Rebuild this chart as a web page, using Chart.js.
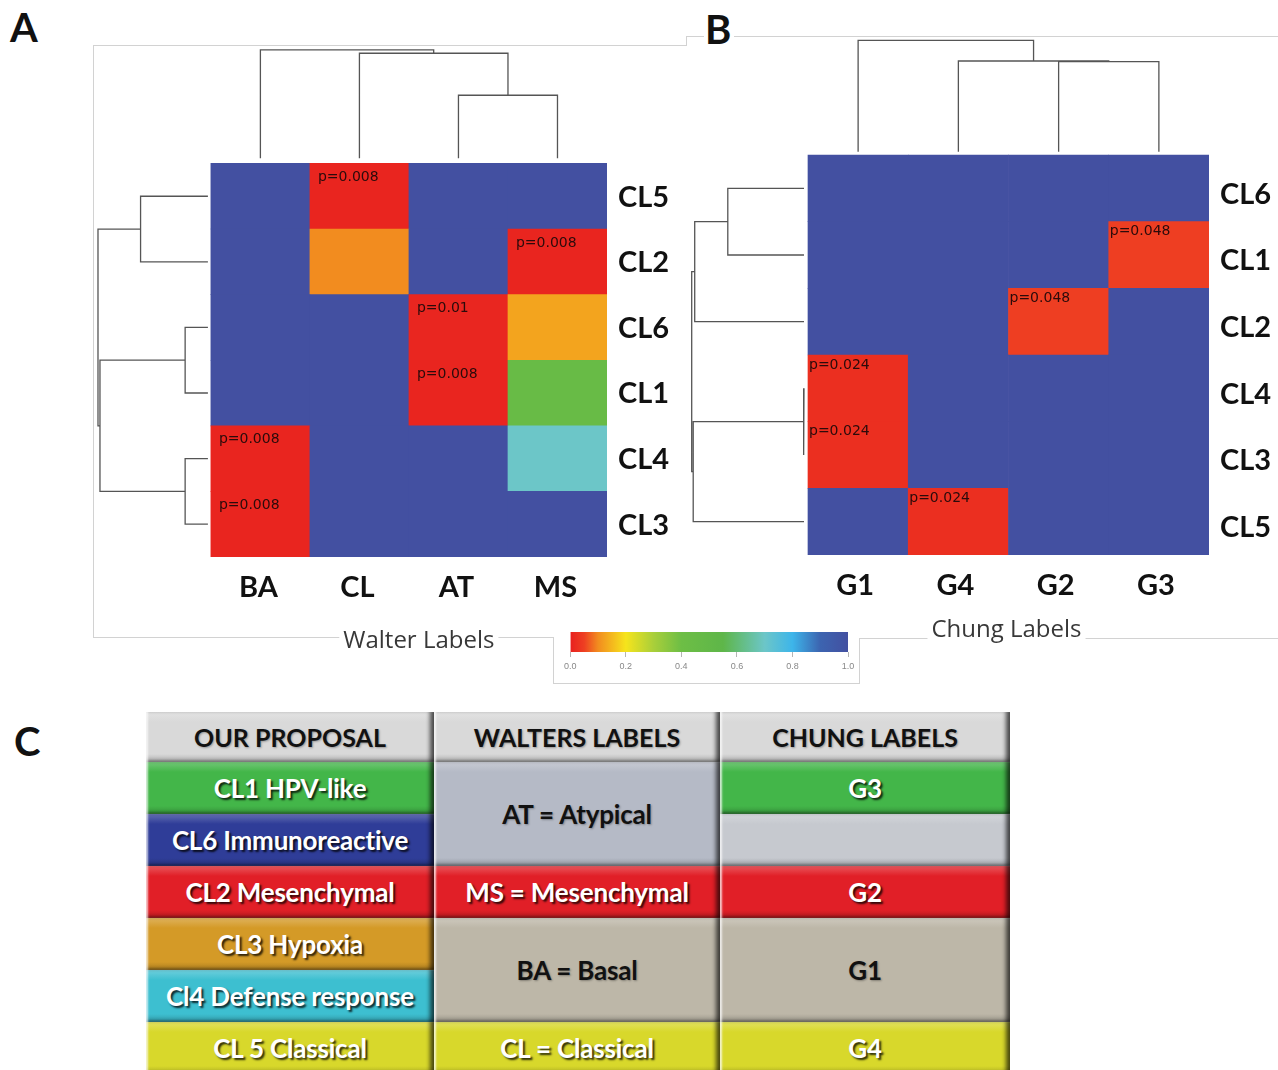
<!DOCTYPE html>
<html>
<head>
<meta charset="utf-8">
<script src="https://cdn.jsdelivr.net/npm/chart.js@4/dist/chart.umd.min.js"></script>
<style>
  html, body { margin: 0; padding: 0; background: #fff; overflow: hidden; }
  #page { position: relative; width: 1278px; height: 1070px; overflow: hidden; }
  canvas { position: absolute; }
  .rule { position: absolute; background: #d2d2d2; }
  .letter { position: absolute; font: bold 40px Lato, sans-serif; color: #111; line-height: 1; }
  .cell {
    position: absolute; box-sizing: border-box; display: flex; align-items: center; justify-content: center;
    font: bold 26px Lato, sans-serif; letter-spacing: -0.2px; white-space: nowrap;
    box-shadow: inset 3px 0 2px -1px rgba(255,255,255,0.75), inset -6px 0 4px -2px rgba(0,0,0,0.65), inset 0 -3px 3px -1px rgba(0,0,0,0.3);
  }
  .cell.head { font-size: 25px; letter-spacing: 0; }
  .ink-light { color: #fff; text-shadow: 2px 2px 2px rgba(0,0,0,0.8); }
  .ink-dark { color: #111; text-shadow: 1px 1px 2px rgba(0,0,0,0.3); }
</style>
</head>
<body>
<div id="page">
  <!-- panel frames -->
  <div class="rule" style="left:93px;top:45px;width:594px;height:1px"></div>
  <div class="rule" style="left:686px;top:36px;width:1px;height:10px"></div>
  <div class="rule" style="left:686px;top:36px;width:18px;height:1px"></div>
  <div class="rule" style="left:734px;top:36px;width:544px;height:1px"></div>
  <div class="rule" style="left:93px;top:45px;width:1px;height:593px"></div>
  <div class="rule" style="left:93px;top:637px;width:461px;height:1px"></div>
  <div class="rule" style="left:553px;top:637px;width:1px;height:47px"></div>
  <div class="rule" style="left:553px;top:683px;width:307px;height:1px"></div>
  <div class="rule" style="left:859px;top:638px;width:1px;height:46px"></div>
  <div class="rule" style="left:859px;top:638px;width:419px;height:1px"></div>

  <div class="letter" style="left:10px;top:7px">A</div>
  <div class="letter" style="left:705px;top:9px">B</div>
  <div class="letter" style="left:14px;top:721px">C</div>

  <canvas id="walters" width="590" height="609" style="left:97px;top:48px"></canvas>
  <canvas id="chung" width="589" height="607" style="left:690px;top:38px"></canvas>
  <canvas id="scale" width="300" height="50" style="left:560px;top:627px"></canvas>

  <div id="table"></div>
</div>

<script>
// ---- Walters subtypes vs. clusters ----
const waltersCols = ['BA', 'CL', 'AT', 'MS'];
const waltersRows = ['CL5', 'CL2', 'CL6', 'CL1', 'CL4', 'CL3'];
const waltersValues = [
  [1, 0.008, 1, 1],
  [1, 0.1, 1, 0.008],
  [1, 1, 0.01, 0.127],
  [1, 1, 0.008, 0.45],
  [0.008, 1, 1, 0.7],
  [0.008, 1, 1, 1]
];
// [row, col] of the cells annotated with their p-value
const waltersPCells = [[0, 1], [1, 3], [2, 2], [3, 2], [4, 0], [5, 0]];
// dendrograms: [left, right, mergeHeight], leaves are indices
const waltersColTree = [0, [1, [2, 3, 1.04], 1.68], 1.73];
const waltersRowTree = [[0, 1, 0.71], [[2, 3, 0.26], [4, 5, 0.26], 1.12], 1.14];

// ---- Chung subtypes vs. clusters ----
const chungCols = ['G1', 'G4', 'G2', 'G3'];
const chungRows = ['CL6', 'CL1', 'CL2', 'CL4', 'CL3', 'CL5'];
const chungValues = [
  [1, 1, 1, 1],
  [1, 1, 1, 0.048],
  [1, 1, 0.048, 1],
  [0.024, 1, 1, 1],
  [0.024, 1, 1, 1],
  [1, 0.024, 1, 1]
];
const chungPCells = [[1, 3], [2, 2], [3, 0], [4, 0], [5, 1]];
const chungColTree = [0, [1, [2, 3, 1.40], 1.41], 1.72];
const chungRowTree = [[[0, 1, 0.80], 2, 1.13], [[3, 4, 0.045], 5, 1.145], 1.16];

// ---- colour scale ----
const scaleTicks = [0, 0.2, 0.4, 0.6, 0.8, 1.0];
const colorStops = [
  [0, '#E8201F'], [0.05, '#EE3F22'], [0.1, '#F28C1F'], [0.2, '#F6E41C'], [0.3, '#A9CF3A'],
  [0.4, '#6DBE45'], [0.55, '#5EB649'], [0.7, '#6CC6C8'], [0.8, '#3DB5EA'], [0.9, '#3C64B0'], [1, '#4350A1']
];

// ---- summary table ----
const tableHeaders = ['OUR PROPOSAL', 'WALTERS LABELS', 'CHUNG LABELS'];
const proposalLabels = ['CL1 HPV-like', 'CL6 Immunoreactive', 'CL2 Mesenchymal', 'CL3 Hypoxia', 'Cl4 Defense response', 'CL 5 Classical'];
const waltersLabels = ['AT = Atypical', 'MS = Mesenchymal', 'BA = Basal', 'CL = Classical'];
const waltersSpans = [2, 1, 2, 1];
const chungLabels = ['G3', '', 'G2', 'G1', 'G4'];
const chungSpans = [1, 1, 1, 2, 1];

const proposalFill = ['#43B649', '#2F3D98', '#E11F27', '#D49A27', '#3DBFD0', '#D8D82B'];
const waltersFill = ['#B5BAC6', '#E11F27', '#BDB7A8', '#D8D82B'];
const chungFill = ['#43B649', '#C6C9CF', '#E11F27', '#BDB7A8', '#D8D82B'];
const waltersInk = ['dark', 'light', 'dark', 'light'];
const chungInk = ['light', 'dark', 'light', 'dark', 'light'];

function hexRgb(h) { const n = parseInt(h.slice(1), 16); return [n >> 16 & 255, n >> 8 & 255, n & 255]; }
function mix(a, b, t) { return a.map((x, k) => Math.round(x + (b[k] - x) * t)); }
function rgb(c) { return `rgb(${c.join(',')})`; }

function valueColor(v) {
  for (let i = 1; i < colorStops.length; i++) {
    const [p1, c1] = colorStops[i - 1], [p2, c2] = colorStops[i];
    if (v <= p2) return rgb(mix(hexRgb(c1), hexRgb(c2), (v - p1) / (p2 - p1)));
  }
  return colorStops[colorStops.length - 1][1];
}

// Walk a dendrogram and return its polyline points (NaN breaks between links)
function treePoints(tree, gap, orient) {
  const pts = [];
  const put = (pos, h) => pts.push(orient === 'top' ? { x: pos, y: -h } : { x: -h, y: pos });
  function walk(node) {
    if (typeof node === 'number') return { pos: node + 0.5, h: gap };
    const [a, b, h] = node;
    const L = walk(a), R = walk(b);
    put(L.pos, L.h); put(L.pos, h); put(R.pos, h); put(R.pos, R.h);
    pts.push({ x: NaN, y: NaN });
    return { pos: (L.pos + R.pos) / 2, h };
  }
  walk(tree);
  return pts;
}

const pLabelPlugin = {
  id: 'pLabels',
  afterDatasetsDraw(chart, args, opts) {
    const { ctx, scales: { x, y } } = chart;
    ctx.save();
    ctx.font = '14px "DejaVu Sans", sans-serif';
    ctx.fillStyle = '#2b0b0b';
    ctx.textBaseline = 'middle';
    ctx.textAlign = 'left';
    opts.cells.forEach(([r, c]) => {
      ctx.fillText('p=' + opts.values[r][c], x.getPixelForValue(c) + opts.dx, y.getPixelForValue(r) + opts.dy);
    });
    ctx.restore();
  }
};

const axisTitlePlugin = {
  id: 'axisTitle',
  afterDraw(chart, args, opts) {
    const { ctx, chartArea, scales: { x } } = chart;
    ctx.save();
    ctx.font = '24px "Open Sans", sans-serif';
    const w = ctx.measureText(opts.text).width;
    const cx = x.getPixelForValue(opts.at), cy = chartArea.bottom + opts.dy;
    ctx.fillStyle = '#fff';
    ctx.fillRect(cx - w / 2 - 4, cy - 13, w + 8, 26);
    ctx.fillStyle = '#383838';
    ctx.textAlign = 'center';
    ctx.textBaseline = 'middle';
    ctx.fillText(opts.text, cx, cy);
    ctx.restore();
  }
};

function heatmap(id, o) {
  const cells = [], fills = [];
  o.rows.forEach((_, i) => o.cols.forEach((_, j) => {
    cells.push({ x: j + 0.5, y: [i, i + 1] });
    fills.push(valueColor(o.values[i][j]));
  }));
  const lineStyle = { type: 'line', borderColor: '#555', borderWidth: 1.3, pointRadius: 0, fill: false, tension: 0, clip: false, spanGaps: false };
  const labelFont = { family: 'Lato', weight: 'bold', size: 29 };
  return new Chart(document.getElementById(id), {
    type: 'bar',
    data: {
      datasets: [
        { type: 'bar', data: cells, backgroundColor: fills, borderWidth: 0, barPercentage: 1, categoryPercentage: 1, grouped: false, order: 2 },
        { ...lineStyle, data: treePoints(o.colTree, o.colGap, 'top'), order: 1 },
        { ...lineStyle, data: treePoints(o.rowTree, o.rowGap, 'left'), order: 1 }
      ]
    },
    options: {
      responsive: false, animation: false, events: [],
      layout: { padding: 0 },
      plugins: {
        legend: { display: false }, tooltip: { enabled: false },
        pLabels: { cells: o.pCells, values: o.values, dx: o.pDx, dy: o.pDy },
        axisTitle: { text: o.title, at: o.titleAt, dy: o.titleDy }
      },
      scales: {
        x: {
          type: 'linear', min: o.xMin, max: o.cols.length, offset: false,
          grid: { display: false, drawTicks: false }, border: { display: false },
          afterBuildTicks: s => { s.ticks = o.cols.map((_, j) => ({ value: j + 0.5 })); },
          afterFit: s => { s.height = o.xAxisHeight; s.paddingLeft = 0; s.paddingRight = 0; },
          ticks: { autoSkip: false, maxRotation: 0, padding: 13, labelOffset: o.colShift, color: '#111', font: labelFont,
                   callback: v => o.cols[Math.floor(v)] }
        },
        y: {
          type: 'linear', position: 'right', reverse: true, min: o.yMin, max: o.rows.length,
          grid: { display: false, drawTicks: false }, border: { display: false },
          afterBuildTicks: s => { s.ticks = o.rows.map((_, i) => ({ value: i + 0.5 })); },
          afterFit: s => { s.width = o.yAxisWidth; s.paddingTop = 0; s.paddingBottom = 0; },
          ticks: { autoSkip: false, padding: 11, labelOffset: o.rowShift, color: '#111', font: labelFont,
                   callback: v => o.rows[Math.floor(v)] }
        }
      }
    },
    plugins: [pLabelPlugin, axisTitlePlugin]
  });
}

heatmap('walters', {
  cols: waltersCols, rows: waltersRows, values: waltersValues, pCells: waltersPCells,
  colTree: waltersColTree, rowTree: waltersRowTree, colGap: 0.08, rowGap: 0.03,
  xMin: -1.15, yMin: -1.76, xAxisHeight: 100, yAxisWidth: 80,
  pDx: 8, pDy: 14, colShift: -2, rowShift: 1,
  title: 'Walter Labels', titleAt: 2.1, titleDy: 84
});

heatmap('chung', {
  cols: chungCols, rows: chungRows, values: chungValues, pCells: chungPCells,
  colTree: chungColTree, rowTree: chungRowTree, colGap: 0.05, rowGap: 0.04,
  xMin: -1.177, yMin: -1.755, xAxisHeight: 90, yAxisWidth: 70,
  pDx: 1, pDy: 10, colShift: -3, rowShift: 6,
  title: 'Chung Labels', titleAt: 1.98, titleDy: 75
});

// colour key
new Chart(document.getElementById('scale'), {
  type: 'bar',
  data: {
    labels: [''],
    datasets: [{
      data: [[scaleTicks[0], scaleTicks[scaleTicks.length - 1]]],
      borderWidth: 0, barPercentage: 1, categoryPercentage: 1,
      backgroundColor: ctx => {
        const { chart } = ctx;
        if (!chart.chartArea) return '#888';
        const x = chart.scales.x;
        const g = chart.ctx.createLinearGradient(x.getPixelForValue(0), 0, x.getPixelForValue(1), 0);
        colorStops.forEach(([p, c]) => g.addColorStop(p, c));
        return g;
      }
    }]
  },
  options: {
    indexAxis: 'y', responsive: false, animation: false, events: [],
    layout: { padding: { left: 8, right: 12, top: 5, bottom: 0 } },
    plugins: { legend: { display: false }, tooltip: { enabled: false } },
    scales: {
      y: { display: false },
      x: {
        type: 'linear', min: 0, max: 1, offset: false,
        afterBuildTicks: s => { s.ticks = scaleTicks.map(v => ({ value: v })); },
        afterFit: s => { s.height = 25; },
        grid: { drawOnChartArea: false, drawTicks: true, tickLength: 5, color: '#b5b5b5' },
        border: { display: false },
        ticks: { padding: 4, color: '#888', font: { family: 'Liberation Sans', size: 9 }, callback: v => v.toFixed(1) }
      }
    }
  }
});

// summary table
(function buildTable() {
  const host = document.getElementById('table');
  const colLeft = [146, 434, 720], colWidth = [288, 286, 290];
  const top0 = 712, headH = 50, rowH = 52;
  function shade(hex, t) { return rgb(mix(hexRgb(hex), t > 0 ? [255, 255, 255] : [0, 0, 0], Math.abs(t))); }
  function cell(text, col, row, span, fill, ink) {
    const d = document.createElement('div');
    d.className = 'cell ink-' + ink + (row < 0 ? ' head' : '');
    const top = row < 0 ? top0 : top0 + headH + row * rowH;
    const h = row < 0 ? headH : span * rowH;
    d.style.left = colLeft[col] + 'px';
    d.style.top = top + 'px';
    d.style.width = colWidth[col] + 'px';
    d.style.height = h + 'px';
    d.style.background = `linear-gradient(to bottom, ${shade(fill, 0.25)} 0px, ${fill} 10px, ${fill} calc(100% - 8px), ${shade(fill, -0.2)} 100%)`;
    d.textContent = text;
    host.appendChild(d);
  }
  tableHeaders.forEach((t, c) => cell(t, c, -1, 1, '#D9D9D9', 'dark'));
  proposalLabels.forEach((t, i) => cell(t, 0, i, 1, proposalFill[i], 'light'));
  let r = 0;
  waltersLabels.forEach((t, i) => { cell(t, 1, r, waltersSpans[i], waltersFill[i], waltersInk[i]); r += waltersSpans[i]; });
  r = 0;
  chungLabels.forEach((t, i) => { cell(t, 2, r, chungSpans[i], chungFill[i], chungInk[i]); r += chungSpans[i]; });
})();
</script>
</body>
</html>
